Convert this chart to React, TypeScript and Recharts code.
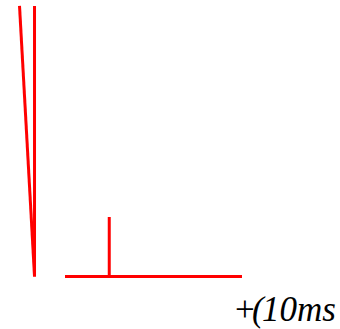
import React from 'react';
import { LineChart, Line, XAxis, YAxis } from 'recharts';

// time axis in ms, heights in arbitrary units
const baselineTimes = [0, 40];
const markerTime = 10;
const markerHeight = 2.2;
const slantTop = -10.28;
const convergeTime = -6.89;
const strokeHeight = 10;
const scaleLabel = '10ms';

const baselineData = baselineTimes.map((t) => ({ x: t, y: 0 }));
const markerData = [
  { x: markerTime, y: 0 },
  { x: markerTime, y: markerHeight },
];
const slantData = [
  { x: slantTop, y: strokeHeight },
  { x: convergeTime, y: 0 },
];
const verticalData = [
  { x: convergeTime, y: strokeHeight },
  { x: convergeTime, y: 0 },
];

const RED = '#ff0000';
const SERIF = '"Liberation Serif", serif';

export default function App() {
  return (
    <div style={{ position: 'absolute', left: 0, top: 0, width: 340, height: 329, background: '#fff' }}>
      <LineChart width={340} height={329} margin={{ top: 0, right: 0, bottom: 0, left: 0 }}>
        <XAxis type="number" dataKey="x" hide domain={[-14.69, 62.15]} allowDataOverflow />
        <YAxis type="number" dataKey="y" hide domain={[-1.94, 10.22]} allowDataOverflow />
        <Line data={slantData} dataKey="y" stroke={RED} strokeWidth={3} dot={false} activeDot={false} isAnimationActive={false} />
        <Line data={verticalData} dataKey="y" stroke={RED} strokeWidth={3} dot={false} activeDot={false} isAnimationActive={false} />
        <Line data={baselineData} dataKey="y" stroke={RED} strokeWidth={3} dot={false} activeDot={false} isAnimationActive={false} />
        <Line data={markerData} dataKey="y" stroke={RED} strokeWidth={3} dot={false} activeDot={false} isAnimationActive={false} />
      </LineChart>
      <svg width={340} height={329} style={{ position: 'absolute', left: 0, top: 0, pointerEvents: 'none' }}>
        <text y={321} fontFamily={SERIF} fontSize={35} fill="#000">
          <tspan x={235}>+</tspan>
          <tspan x={252} fontStyle="italic">(</tspan>
          <tspan x={262} fontStyle="italic">{scaleLabel}</tspan>
        </text>
      </svg>
    </div>
  );
}
